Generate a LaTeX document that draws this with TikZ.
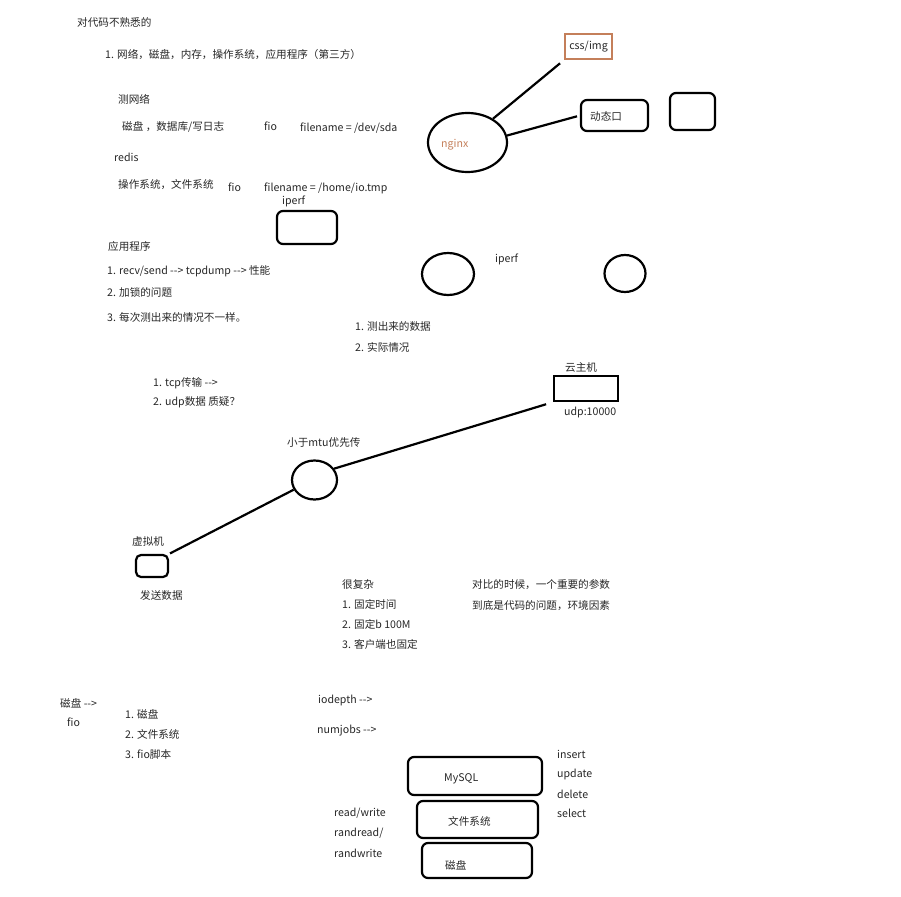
\documentclass[tikz,border=0pt]{standalone}
\usepackage{fontspec}
\setmainfont{Noto Sans CJK SC}
\usetikzlibrary{shapes.geometric}
\definecolor{ink}{HTML}{262626}
\definecolor{rust}{HTML}{C47F5A}
\newcommand{\arr}{-{}-{}>}
\tikzset{
  txt/.style={anchor=west, inner sep=0pt, font=\fontsize{10.6}{12}\selectfont, text=ink},
  rbox/.style={draw=black, line width=2.2pt, rounded corners=6pt, inner sep=0pt},
  oval/.style={draw=black, line width=2.2pt, ellipse, inner sep=0pt},
  wire/.style={draw=black, line width=2.2pt}
}
\begin{document}
\begin{tikzpicture}[x=1pt,y=-1pt]
\useasboundingbox (0,0) rectangle (901,896);
% top text
\node[txt] (t1) at (77,22) {对代码不熟悉的};
\node[txt] (t2) at (105,55) {1. 网络，磁盘，内存，操作系统，应用程序（第三方）};
\node[txt] (t3) at (118,99) {测网络};
\node[txt] (t4) at (122,127) {磁盘 ，数据库/写日志};
\node[txt] (t5) at (264,126) {fio};
\node[txt] (t6) at (300,128) {filename = /dev/sda};
\node[txt] (t7) at (114,157) {redis};
\node[txt] (t8) at (118,185) {操作系统，文件系统};
\node[txt] (t9) at (228,187) {fio};
\node[txt] (t10) at (264,188) {filename = /home/io.tmp};
\node[txt] (t11) at (282,201) {iperf};
\node[rbox, minimum width=60pt, minimum height=33pt] (ibox) at (307,227.5) {};
\node[txt] (t12) at (108,246) {应用程序};
\node[txt] (t13) at (107,271) {1. recv/send \arr{} tcpdump \arr{} 性能};
\node[txt] (t14) at (107,292) {2. 加锁的问题};
\node[txt] (t15) at (107,317) {3. 每次测出来的情况不一样。};
% nginx area
\node[draw=rust, line width=2.2pt, inner sep=0pt, minimum width=47pt, minimum height=25pt, font=\fontsize{10.6}{12}\selectfont, text=ink] (css) at (588.5,46.5) {css/img};
\node[oval, minimum width=79pt, minimum height=59pt] (nginx) at (467.5,142.5) {};
\node[txt, text=rust] (ngt) at (441,145) {nginx};
\node[rbox, minimum width=67pt, minimum height=31pt] (dyn) at (614.5,115.5) {};
\node[txt] (dynt) at (590,116) {动态口};
\node[rbox, minimum width=45pt, minimum height=37pt] (empty) at (692.5,111.5) {};
\draw[wire, shorten >=5pt] (nginx.43) -- (css.south west);
\draw[wire, shorten >=3pt] (nginx.10) -- (dyn.west);
% iperf circles
\node[oval, minimum width=52pt, minimum height=42pt] (c1) at (448,274) {};
\node[txt] (t16) at (495,259) {iperf};
\node[oval, minimum width=41pt, minimum height=37pt] (c2) at (625,273.5) {};
\node[txt] (t17) at (355,326) {1. 测出来的数据};
\node[txt] (t18) at (355,347) {2. 实际情况};
% udp
\node[txt] (t19) at (153,383) {1. tcp传输 \arr};
\node[txt] (t20) at (153,402) {2. udp数据 质疑？};
\node[txt] (t21) at (565,367) {云主机};
\node[draw=black, line width=2.4pt, inner sep=0pt, minimum width=64pt, minimum height=25pt] (cloud) at (586,388.5) {};
\node[txt] (t22) at (564,412) {udp:10000};
\node[txt] (t23) at (287,442) {小于mtu优先传};
\node[oval, minimum width=45pt, minimum height=39pt] (mtu) at (314.5,480) {};
\node[txt] (t24) at (132,541) {虚拟机};
\node[rbox, rounded corners=5pt, minimum width=32pt, minimum height=22pt] (vm) at (152,566) {};
\node[txt] (t25) at (140,595) {发送数据};
\draw[wire, shorten >=7pt] (mtu.30) -- (cloud.south west);
\draw[wire, shorten >=1pt] (mtu.205) -- (vm.north east);
% middle text
\node[txt] (t26) at (342,584) {很复杂};
\node[txt] (t27) at (342,604) {1. 固定时间};
\node[txt] (t28) at (342,624) {2. 固定b 100M};
\node[txt] (t29) at (342,644) {3. 客户端也固定};
\node[txt] (t30) at (472,585) {对比的时候，一个重要的参数};
\node[txt] (t31) at (472,606) {到底是代码的问题，环境因素};
% bottom
\node[txt] (t32) at (60,703) {磁盘 \arr};
\node[txt] (t33) at (67,722) {fio};
\node[txt] (t34) at (125,714) {1. 磁盘};
\node[txt] (t35) at (125,734) {2. 文件系统};
\node[txt] (t36) at (125,754) {3. fio脚本};
\node[txt] (t37) at (318,700) {iodepth \arr};
\node[txt] (t38) at (317,731) {numjobs \arr};
\node[rbox, minimum width=134pt, minimum height=38pt] (mysql) at (475,776) {};
\node[txt] (t39) at (444,779) {MySQL};
\node[rbox, minimum width=121pt, minimum height=37pt] (fs) at (477.5,819.5) {};
\node[txt] (t40) at (448,821) {文件系统};
\node[rbox, minimum width=110pt, minimum height=35pt] (disk) at (477,860.5) {};
\node[txt] (t41) at (445,865) {磁盘};
\node[txt] (t42) at (557,754) {insert};
\node[txt] (t43) at (557,774) {update};
\node[txt] (t44) at (557,794) {delete};
\node[txt] (t45) at (557,813) {select};
\node[txt] (t46) at (334,813) {read/write};
\node[txt] (t47) at (334,833) {randread/};
\node[txt] (t48) at (334,853) {randwrite};
\end{tikzpicture}
\end{document}
